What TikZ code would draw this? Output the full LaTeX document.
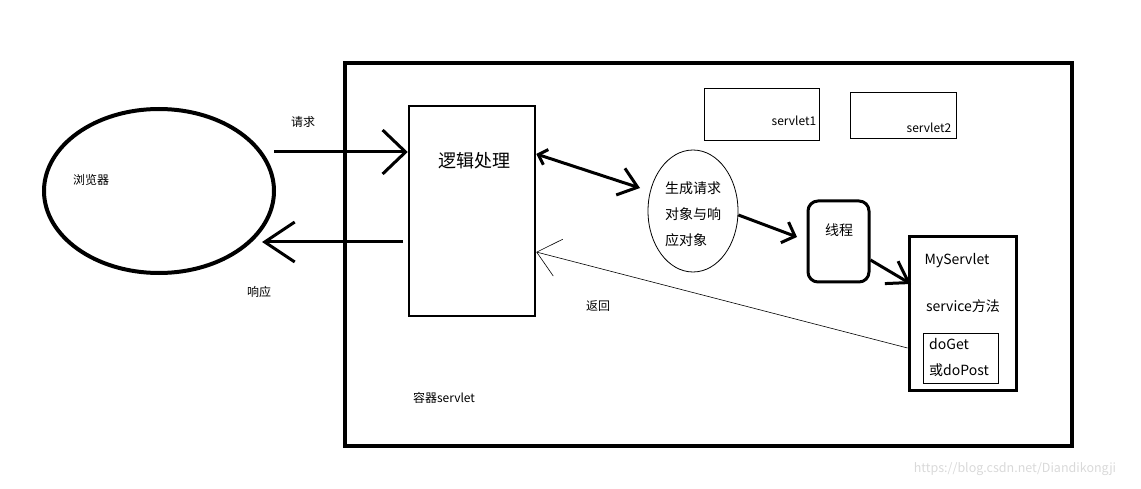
\documentclass[tikz,border=0pt]{standalone}
\usepackage{fontspec}
\setmainfont{Noto Sans CJK SC}
\usetikzlibrary{arrows.meta,shapes.geometric}
\tikzset{
  box/.style={draw, rectangle, inner sep=0pt},
  lbl/.style={inner sep=0pt, font=\fontsize{12}{14}\selectfont},
  mid/.style={inner sep=0pt, font=\fontsize{14}{26}\selectfont},
  barb/.style args={#1/#2}{-{Straight Barb[length=#1pt,width=#2pt]}}
}

\begin{document}
\begin{tikzpicture}[x=1pt, y=-1pt]
  \useasboundingbox (0,0) rectangle (1141,489);
  % browser side
  \node[draw, ellipse, line width=4pt, minimum width=230pt, minimum height=164pt] (browser) at (159,191) {};
  \node[lbl] (browsertxt) at (91,180) {浏览器};
  \node[lbl] (req) at (303,122) {请求};
  \node[lbl] (resp) at (259,292) {响应};
  % container
  \node[box, line width=4pt, minimum width=727pt, minimum height=383pt] (container) at (708.5,254.5) {};
  \node[lbl] (containertxt) at (444,398) {容器servlet};
  \node[box, line width=2.5pt, minimum width=126pt, minimum height=210pt] (logic) at (472,211) {};
  \node[inner sep=0pt, font=\fontsize{18}{20}\selectfont] (logictxt) at (474,161) {逻辑处理};
  \node[box, line width=1pt, minimum width=115pt, minimum height=52pt] (servletone) at (761.5,114.5) {};
  \node[lbl] at (794,121) {servlet1};
  \node[box, line width=1pt, minimum width=106pt, minimum height=46pt] (servlettwo) at (903,116) {};
  \node[lbl] at (929,128) {servlet2};
  \node[draw, ellipse, line width=0.8pt, minimum width=90pt, minimum height=122pt] (genobj) at (693,211) {};
  \node[mid, align=left, anchor=west] (genobjtxt) at (665,214) {生成请求\\对象与响\\应对象};
  \node[draw, rounded corners=10pt, line width=3pt, minimum width=61pt, minimum height=81pt, inner sep=0pt] (thread) at (838.5,241.5) {};
  \node[mid] (threadtxt) at (839,230) {线程};
  \node[box, line width=3pt, minimum width=107pt, minimum height=153pt] (myservlet) at (962.5,313.5) {};
  \node[mid] (myservlettxt) at (957,261) {MyServlet};
  \node[mid] (servicetxt) at (963,306) {service方法};
  \node[box, line width=1pt, minimum width=75pt, minimum height=50pt] (doget) at (960.5,358) {};
  \node[mid, align=left, anchor=west] (dogettxt) at (929,357) {doGet\\或doPost};
  \node[lbl] (back) at (598,306) {返回};
  % connectors
  \coordinate (reqstart) at (274,152);
  \coordinate (respstart) at (403,242);
  \coordinate (resptip) at (262,242);
  \coordinate (gentip) at (640,188);
  \coordinate (threadtip) at (797,237);
  \coordinate (mytip) at (911,284);
  \draw[line width=3pt, barb=23/44] (reqstart) -- (logic.west |- reqstart);
  \draw[line width=3pt, barb=30/40] (respstart) -- (resptip);
  \draw[line width=3pt, {Straight Barb[length=8pt,width=16pt]}-{Straight Barb[length=18pt,width=28pt]}] (logic.east |- 0,154) -- (gentip);
  \draw[line width=3pt, barb=11/22] (genobj.east |- 0,215) -- (threadtip);
  \draw[line width=3pt, barb=20/26] (thread.east |- 0,260) -- (mytip);
  \draw[line width=0.6pt, barb=22/38] (myservlet.west |- 0,348) -- (logic.east |- 0,252);
  \node[inner sep=0pt, text=gray!30, font=\fontsize{12.5}{14}\selectfont] (mark) at (1015,469) {https://blog.csdn.net/Diandikongji};
\end{tikzpicture}
\end{document}
